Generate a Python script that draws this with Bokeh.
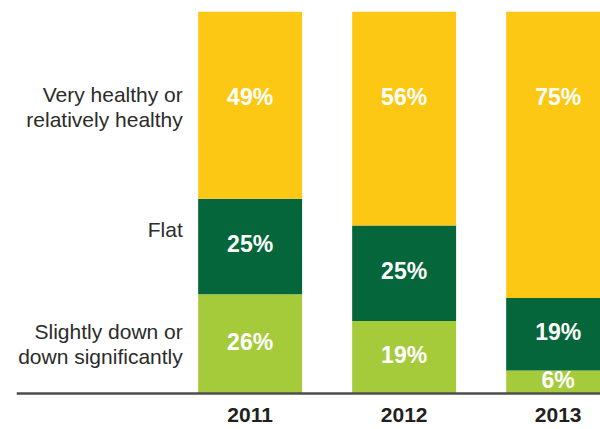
from bokeh.plotting import figure
from bokeh.models import ColumnDataSource, Range1d, Span
from bokeh.core.properties import value
from bokeh.embed import file_html
from bokeh.resources import INLINE

# ---- data ----
years = ["2011", "2012", "2013"]
down = [26, 19, 6]        # Slightly down or down significantly
flat = [25, 25, 19]       # Flat
healthy = [49, 56, 75]    # Very healthy or relatively healthy
categories = ["Slightly down or\ndown significantly", "Flat",
              "Very healthy or\nrelatively healthy"]
colors = ["#A5CB3B", "#04663A", "#FDC814"]

xs = list(range(len(years)))
series = [down, flat, healthy]
keys = ["down", "flat", "healthy"]

src = ColumnDataSource(dict(x=xs, down=down, flat=flat, healthy=healthy))

p = figure(width=600, height=429, output_backend="svg", toolbar_location=None,
           x_range=Range1d(-1.517, 2.275), y_range=Range1d(-9.42, 100),
           x_axis_location=None, y_axis_location=None,
           min_border_left=16, min_border_right=0,
           min_border_top=11, min_border_bottom=0)
p.outline_line_color = None
p.xgrid.visible = False
p.ygrid.visible = False
p.background_fill_color = "white"
p.border_fill_color = "white"

bar_w = 0.675
p.vbar_stack(keys, x="x", width=bar_w, color=colors, line_color=None, source=src)

# baseline
p.add_layout(Span(location=0, dimension="width", line_color="#4d4d4d",
                  line_width=2.5))

# segment labels
lx, ly, lt = [], [], []
for i in xs:
    base = 0
    for k, vals in enumerate(series):
        v = vals[i]
        lx.append(i)
        ly.append(77.5 if k == 2 else base + v / 2 + 0.6)
        lt.append(f"{v}%")
        base += v
p.text(x=lx, y=ly, text=lt, text_color="white", text_align="center",
       text_baseline="middle", text_font=value("Liberation Sans"),
       text_font_style="bold", text_font_size="23px")

# category labels on the left, aligned with the 2011 bar segments
cx, cy = [], []
base = 0
offsets = [0, 4.5, 0]
for k, vals in enumerate(series):
    v = vals[0]
    cx.append(-bar_w / 2 - 0.1)
    cy.append(75 if k == 2 else base + v / 2 + offsets[k])
    base += v
p.text(x=cx, y=cy, text=categories, text_color="#2b2b2b", text_align="right",
       text_baseline="middle", text_font=value("Liberation Sans"),
       text_font_size="21px", text_line_height=1.1)

# year labels under the bars
p.text(x=xs, y=[-5.75] * len(xs), text=years, text_color="#231f20",
       text_align="center", text_baseline="middle",
       text_font=value("Liberation Sans"), text_font_style="bold",
       text_font_size="21px")

open("out.html", "w").write(file_html(p, INLINE))
